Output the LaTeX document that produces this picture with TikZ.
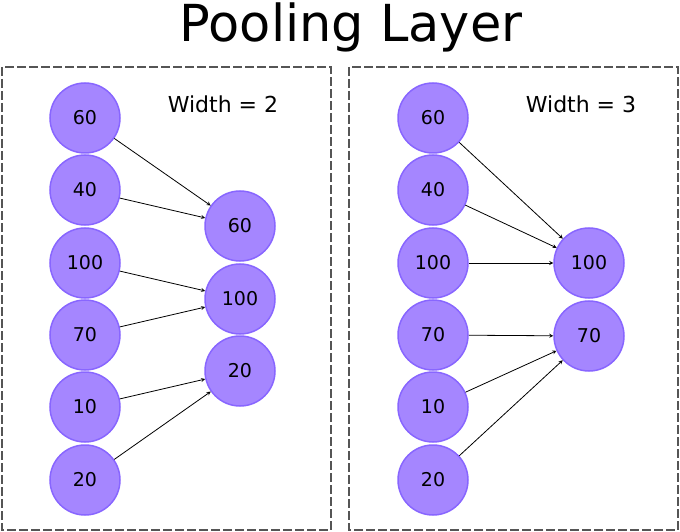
\documentclass[tikz,border=0pt]{standalone}
\usepackage{fontspec}
\setmainfont{DejaVu Sans}
\usepackage{pgf,tikz}
\usetikzlibrary{calc}
\usetikzlibrary{arrows}

\definecolor{poolfill}{RGB}{165,134,255}
\definecolor{pooldraw}{RGB}{136,102,255}
\definecolor{boxgray}{RGB}{85,85,85}

\begin{document}
\begin{tikzpicture}[x=1bp,y=-1bp]
\useasboundingbox (0,0) rectangle (680,532);
  %left column
\coordinate (a) at (85, 118);
\coordinate (b) at (85, 190);
\coordinate (c) at (85, 263);
\coordinate (d) at (85, 335);
\coordinate (e) at (85, 407);
\coordinate (f) at (85, 480);
  %right column
\coordinate (A) at (433, 118);
\coordinate (B) at (433, 190);
\coordinate (C) at (433, 263);
\coordinate (D) at (433, 335);
\coordinate (E) at (433, 407);
\coordinate (F) at (433, 480);
  %outputs
\coordinate (p) at (240, 226);
\coordinate (q) at (240, 299);
\coordinate (r) at (240, 371);
\coordinate (P) at (589, 263);
\coordinate (Q) at (589, 336);

\newcommand{\poolnode}[3] {
    \node[circle,minimum size=70bp,inner sep=0pt,line width=1.5bp,draw=pooldraw,fill=poolfill,font=\fontsize{19bp}{22bp}\selectfont] (#1) at (#2) {#3};
}

\newcommand{\pedge}[2]{
    \draw[black,line width=0.8bp,->,>=stealth] (#1)--(#2);
}

\newcommand{\drawpanels}{
    \draw[boxgray,line width=1.8bp,dash pattern=on 9bp off 3bp] (2,67) rectangle (331,530);
    \draw[boxgray,line width=1.8bp,dash pattern=on 9bp off 3bp] (349,67) rectangle (678,530);
}

\newcommand{\drawleft}{
    \poolnode{la}{a}{60}
    \poolnode{lb}{b}{40}
    \poolnode{lc}{c}{100}
    \poolnode{ld}{d}{70}
    \poolnode{le}{e}{10}
    \poolnode{lf}{f}{20}
    \poolnode{lp}{p}{60}
    \poolnode{lq}{q}{100}
    \poolnode{lr}{r}{20}
    \pedge{la}{lp},\pedge{lb}{lp}
    \pedge{lc}{lq},\pedge{ld}{lq}
    \pedge{le}{lr},\pedge{lf}{lr}
}

\newcommand{\drawright}{
    \poolnode{ra}{A}{60}
    \poolnode{rb}{B}{40}
    \poolnode{rc}{C}{100}
    \poolnode{rd}{D}{70}
    \poolnode{re}{E}{10}
    \poolnode{rf}{F}{20}
    \poolnode{rp}{P}{100}
    \poolnode{rq}{Q}{70}
    \pedge{ra}{rp},\pedge{rb}{rp},\pedge{rc}{rp}
    \pedge{rd}{rq},\pedge{re}{rq},\pedge{rf}{rq}
}

    \node[anchor=base,font=\fontsize{51bp}{58bp}\selectfont] (title) at (351, 42) {Pooling Layer};
    \node[font=\fontsize{22bp}{25bp}\selectfont] (wl) at (223, 104) {Width = 2};
    \node[font=\fontsize{22bp}{25bp}\selectfont] (wr) at (581, 104) {Width = 3};
    \drawpanels
    \drawleft
    \drawright
  \end{tikzpicture}
\end{document}
